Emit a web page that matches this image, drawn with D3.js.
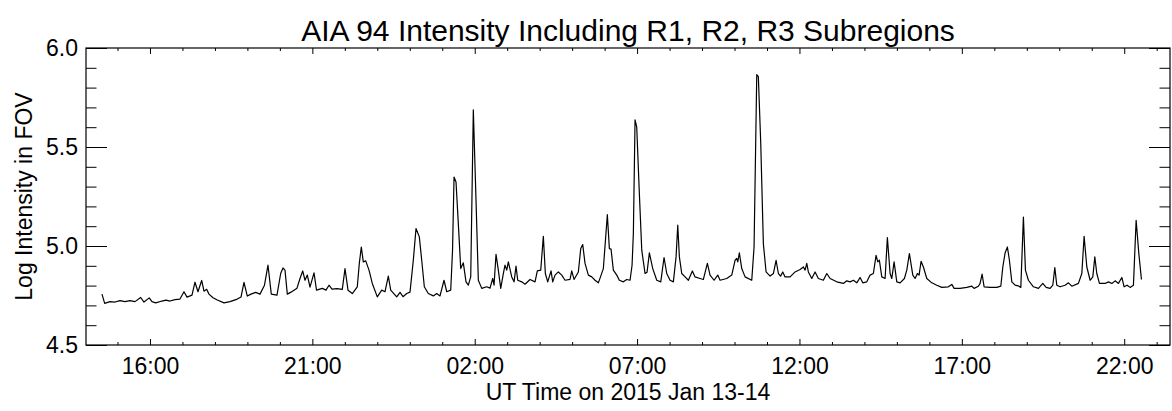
<!DOCTYPE html>
<html>
<head>
<meta charset="utf-8">
<script src="https://cdn.jsdelivr.net/npm/d3@7"></script>
<style>
  html, body { margin: 0; padding: 0; background: #fff; }
  svg { display: block; }
  text { font-family: "Liberation Sans", Arial, Helvetica, sans-serif; fill: #000; }
</style>
</head>
<body>
<svg id="chart" width="1172" height="411"></svg>
<script>
// ---- data (hours since 2015-01-13 00:00 UT, log intensity) ----
const times = [14.522,14.605,14.768,14.922,15.076,15.230,15.384,15.538,15.714,15.815,
15.978,16.062,16.176,16.370,16.493,16.616,16.770,16.924,17.047,17.140,
17.294,17.386,17.478,17.592,17.663,17.746,17.817,17.940,18.073,18.279,
18.464,18.689,18.803,18.895,18.997,19.111,19.255,19.388,19.526,19.634,
19.736,19.911,20.025,20.096,20.158,20.229,20.343,20.435,20.527,20.620,
20.703,20.774,20.845,20.928,21.051,21.128,21.306,21.420,21.513,21.605,
21.759,21.922,22.006,22.098,22.230,22.384,22.446,22.508,22.569,22.643,
22.745,22.846,23.000,23.136,23.238,23.339,23.413,23.598,23.700,23.792,
23.906,24.007,24.109,24.192,24.294,24.368,24.448,24.571,24.725,24.830,
24.931,25.055,25.138,25.261,25.317,25.363,25.424,25.495,25.569,25.649,
25.732,25.803,25.877,25.957,26.040,26.111,26.216,26.370,26.471,26.554,
26.595,26.656,26.727,26.801,26.881,26.933,26.986,27.035,27.140,27.211,
27.272,27.324,27.448,27.549,27.703,27.857,27.928,28.033,28.113,28.175,
28.248,28.350,28.402,28.473,28.575,28.680,28.781,28.935,28.987,29.058,
29.191,29.265,29.326,29.397,29.499,29.604,29.705,29.807,29.881,29.961,
30.084,30.146,30.198,30.269,30.374,30.454,30.577,30.681,30.783,30.845,
30.885,30.937,30.989,31.070,31.144,31.245,31.307,31.378,31.482,31.606,
31.729,31.830,31.913,32.015,32.117,32.200,32.252,32.302,32.375,32.477,
32.579,32.702,32.785,32.939,33.041,33.164,33.247,33.370,33.484,33.555,
33.761,33.915,34.017,34.069,34.100,34.149,34.223,34.325,34.531,34.602,
34.685,34.734,34.808,34.888,34.972,35.095,35.197,35.280,35.351,35.418,
35.486,35.557,35.711,35.865,36.019,36.121,36.173,36.225,36.274,36.379,
36.481,36.582,36.736,36.841,36.943,37.149,37.352,37.457,37.559,37.660,
37.765,37.867,37.950,38.073,38.175,38.276,38.359,38.412,38.461,38.535,
38.637,38.707,38.791,38.843,38.914,38.997,39.099,39.231,39.305,39.385,
39.490,39.561,39.632,39.684,39.745,39.816,39.921,40.075,40.229,40.383,
40.586,40.691,40.762,40.946,41.153,41.307,41.378,41.510,41.562,41.624,
41.686,41.870,42.077,42.200,42.262,42.332,42.403,42.465,42.539,42.640,
42.733,42.816,42.896,42.958,43.050,43.204,43.358,43.493,43.595,43.718,
43.801,43.863,43.924,44.026,44.180,44.282,44.387,44.590,44.695,44.765,
44.849,44.950,45.033,45.095,45.156,45.237,45.412,45.514,45.619,45.720,
45.822,45.927,45.997,46.090,46.182,46.284,46.367,46.450,46.531];

const logIntensity = [4.757,4.710,4.719,4.717,4.724,4.719,4.724,4.719,4.740,4.717,
4.738,4.719,4.713,4.722,4.727,4.722,4.729,4.732,4.769,4.742,
4.752,4.817,4.769,4.826,4.772,4.781,4.757,4.739,4.727,4.713,
4.719,4.732,4.742,4.816,4.747,4.757,4.766,4.757,4.802,4.903,
4.757,4.752,4.861,4.889,4.878,4.757,4.767,4.777,4.787,4.836,
4.874,4.827,4.853,4.792,4.864,4.777,4.786,4.777,4.802,4.782,
4.785,4.781,4.886,4.777,4.760,4.794,4.912,4.995,4.920,4.925,
4.878,4.811,4.743,4.777,4.769,4.848,4.777,4.743,4.766,4.744,
4.760,4.767,4.928,5.088,5.046,4.928,4.794,4.760,4.748,4.760,
4.748,4.827,4.769,4.777,4.979,5.348,5.323,5.113,4.886,4.915,
4.819,4.802,4.844,5.687,5.231,4.827,4.786,4.794,4.787,4.836,
4.802,4.958,4.878,4.786,4.861,4.903,4.878,4.920,4.844,4.819,
4.898,4.827,4.819,4.807,4.831,4.819,4.874,4.878,5.049,4.861,
4.819,4.874,4.819,4.853,4.869,4.853,4.827,4.831,4.874,4.831,
4.869,4.987,5.007,4.912,4.853,4.844,4.827,4.814,4.848,4.886,
5.158,4.987,4.984,4.878,4.853,4.827,4.819,4.831,4.827,4.903,
5.063,5.637,5.600,5.264,4.979,4.861,4.868,4.965,4.886,4.827,
4.819,4.942,4.861,4.827,4.819,4.945,5.105,4.945,4.861,4.844,
4.827,4.874,4.844,4.836,4.831,4.912,4.853,4.827,4.853,4.827,
4.836,4.853,4.928,4.937,4.920,4.965,4.886,4.844,4.827,4.995,
5.866,5.855,5.516,5.012,4.869,4.848,4.861,4.928,4.861,4.848,
4.869,4.844,4.844,4.869,4.881,4.894,4.878,4.912,4.869,4.836,
4.869,4.836,4.827,4.861,4.836,4.819,4.811,4.824,4.819,4.827,
4.814,4.841,4.814,4.819,4.853,4.861,4.953,4.920,4.928,4.844,
4.836,5.043,4.861,4.836,4.920,4.819,4.814,4.836,4.878,4.962,
4.853,4.836,4.861,4.853,4.923,4.894,4.836,4.814,4.802,4.791,
4.794,4.806,4.786,4.786,4.791,4.797,4.786,4.797,4.811,4.858,
4.794,4.791,4.791,4.797,4.894,4.965,4.995,4.928,4.819,4.802,
4.799,4.791,5.146,4.878,4.827,4.794,4.786,4.811,4.791,4.786,
4.802,4.891,4.802,4.794,4.802,4.814,4.797,4.811,4.861,5.049,
4.894,4.827,4.844,4.945,4.861,4.811,4.811,4.819,4.811,4.824,
4.811,4.841,4.794,4.802,4.791,4.802,5.130,4.962,4.831];

// ---- axes ----
const xDomain = [14.03, 47.41];
const xMajorTicks = [16, 21, 26, 31, 36, 41, 46];
const xTickLabels = ["16:00", "21:00", "02:00", "07:00", "12:00", "17:00", "22:00"];
const xMinorTicks = [15,17,18,19,20,22,23,24,25,27,28,29,30,32,33,34,35,37,38,39,40,42,43,44,45,47];
const yDomain = [4.5, 6.0];
const yMajorTicks = [4.5, 5.0, 5.5, 6.0];
const yTickLabels = ["4.5", "5.0", "5.5", "6.0"];
const yMinorTicks = [4.6, 4.7, 4.8, 4.9, 5.1, 5.2, 5.3, 5.4, 5.6, 5.7, 5.8, 5.9];

const titleText = "AIA 94 Intensity Including R1, R2, R3 Subregions";
const xTitleText = "UT Time on 2015 Jan 13-14";
const yTitleText = "Log Intensity in FOV";

// ---- layout ----
const L = 86, R = 1170, T = 48, B = 345;
const svg = d3.select("#chart");
svg.append("rect").attr("width", 1172).attr("height", 411).attr("fill", "#fff");

const x = d3.scaleLinear().domain(xDomain).range([L, R]);
const y = d3.scaleLinear().domain(yDomain).range([B, T]);

const fs = 23;

function styleAxis(g) {
  g.select(".domain").remove();
  g.selectAll(".tick line").attr("stroke", "#000").attr("stroke-width", 1);
  g.selectAll(".tick text").attr("font-size", fs).attr("font-family", '"Liberation Sans", Arial, sans-serif').attr("fill", "#000");
}

// bottom
svg.append("g").attr("transform", `translate(0,${B})`)
  .call(d3.axisBottom(x).tickValues(xMajorTicks).tickSize(-6).tickPadding(13)
    .tickFormat((d, i) => xTickLabels[i]))
  .call(styleAxis);
svg.append("g").attr("transform", `translate(0,${B})`)
  .call(d3.axisBottom(x).tickValues(xMinorTicks).tickSize(-3).tickFormat(""))
  .call(styleAxis);
// top
svg.append("g").attr("transform", `translate(0,${T})`)
  .call(d3.axisTop(x).tickValues(xMajorTicks).tickSize(-6).tickFormat(""))
  .call(styleAxis);
svg.append("g").attr("transform", `translate(0,${T})`)
  .call(d3.axisTop(x).tickValues(xMinorTicks).tickSize(-3).tickFormat(""))
  .call(styleAxis);
// left
svg.append("g").attr("transform", `translate(${L},0)`)
  .call(d3.axisLeft(y).tickValues(yMajorTicks).tickSize(-21).tickPadding(8)
    .tickFormat((d, i) => yTickLabels[i]))
  .call(styleAxis);
svg.append("g").attr("transform", `translate(${L},0)`)
  .call(d3.axisLeft(y).tickValues(yMinorTicks).tickSize(-10.5).tickFormat(""))
  .call(styleAxis);
// right
svg.append("g").attr("transform", `translate(${R},0)`)
  .call(d3.axisRight(y).tickValues(yMajorTicks).tickSize(-21).tickFormat(""))
  .call(styleAxis);
svg.append("g").attr("transform", `translate(${R},0)`)
  .call(d3.axisRight(y).tickValues(yMinorTicks).tickSize(-10.5).tickFormat(""))
  .call(styleAxis);

// frame
svg.append("rect").attr("x", L).attr("y", T).attr("width", R - L).attr("height", B - T)
  .attr("fill", "none").attr("stroke", "#000").attr("stroke-width", 1.2);

// data line
const data = times.map((t, i) => ({ t, v: logIntensity[i] }));
svg.append("path").datum(data)
  .attr("fill", "none").attr("stroke", "#000").attr("stroke-width", 1.2)
  .attr("stroke-linejoin", "round")
  .attr("d", d3.line().x(d => x(d.t)).y(d => y(d.v)));

// titles
svg.append("text").attr("x", (L + R) / 2).attr("y", 41).attr("text-anchor", "middle")
  .attr("font-size", 30).text(titleText);
svg.append("text").attr("x", (L + R) / 2).attr("y", 400).attr("text-anchor", "middle")
  .attr("font-size", fs).text(xTitleText);
svg.append("text").attr("transform", `translate(32,${(T + B) / 2}) rotate(-90)`)
  .attr("text-anchor", "middle").attr("font-size", fs).text(yTitleText);
</script>
</body>
</html>
